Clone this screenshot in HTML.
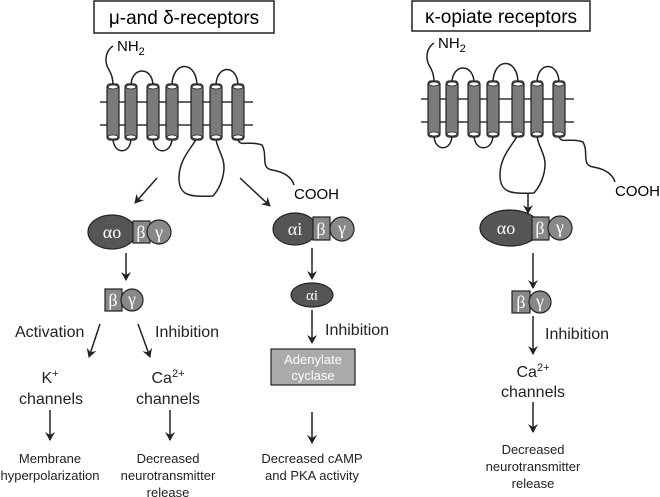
<!DOCTYPE html>
<html><head><style>body{margin:0;background:#fff}svg{display:block}text{font-family:"Liberation Sans",sans-serif}text.g{font-family:"Liberation Serif",serif}</style></head><body>
<svg width="660" height="497" viewBox="0 0 660 497" xmlns="http://www.w3.org/2000/svg">
<defs>
<marker id="ah" markerWidth="10" markerHeight="10" refX="8" refY="5" orient="auto" markerUnits="userSpaceOnUse"><path d="M0,0 L9,5 L0,10 L3,5 Z" fill="#222"/></marker>
<g id="rec">
<line x1="100" y1="102" x2="253" y2="102" stroke="#333" stroke-width="1.5"/>
<line x1="100" y1="125" x2="253" y2="125" stroke="#333" stroke-width="1.5"/>
<g fill="none" stroke="#222" stroke-width="1.5">
<path d="M113,86 C113,70 106,70 106,60 C106,52 110,48 113,46"/>
<path d="M131,86 C131,66 153,66 153,86"/>
<path d="M172,86 C172,60 197,60 197,86"/>
<path d="M216,86 C216,64 238,64 238,86"/>
<path d="M113,138 C113,155 131,155 131,138"/>
<path d="M153,138 C153,155 172,155 172,138"/>
<path d="M197,138 C190,150 179,160 179,178 C179,196 190,197 213,196 C222,186 226,170 223,160 C220,150 216,145 216,138"/>
<path d="M238,138 C238,148 250,140 262,145 C268,155 260,168 272,170 C285,172 292,178 294,185"/>
</g>
<g fill="#7a7a7a" stroke="#222" stroke-width="1.2">
<rect x="107" y="84" width="12" height="56" rx="3"/>
<rect x="125" y="84" width="12" height="56" rx="3"/>
<rect x="147" y="84" width="12" height="56" rx="3"/>
<rect x="166" y="84" width="12" height="56" rx="3"/>
<rect x="191" y="84" width="12" height="56" rx="3"/>
<rect x="210" y="84" width="12" height="56" rx="3"/>
<rect x="232" y="84" width="12" height="56" rx="3"/>
</g>
<g fill="#fff" stroke="#222" stroke-width="0.8">
<ellipse cx="113" cy="87" rx="5" ry="2"/><ellipse cx="113" cy="137" rx="5" ry="2"/>
<ellipse cx="131" cy="87" rx="5" ry="2"/><ellipse cx="131" cy="137" rx="5" ry="2"/>
<ellipse cx="153" cy="87" rx="5" ry="2"/><ellipse cx="153" cy="137" rx="5" ry="2"/>
<ellipse cx="172" cy="87" rx="5" ry="2"/><ellipse cx="172" cy="137" rx="5" ry="2"/>
<ellipse cx="197" cy="87" rx="5" ry="2"/><ellipse cx="197" cy="137" rx="5" ry="2"/>
<ellipse cx="216" cy="87" rx="5" ry="2"/><ellipse cx="216" cy="137" rx="5" ry="2"/>
<ellipse cx="238" cy="87" rx="5" ry="2"/><ellipse cx="238" cy="137" rx="5" ry="2"/>
</g>
<text x="117" y="51" font-size="15">NH<tspan font-size="11" dy="4">2</tspan></text>
<text x="294" y="199" font-size="15">COOH</text>
</g>
</defs>

<rect x="94" y="1" width="180" height="32" fill="#fff" stroke="#222" stroke-width="1.5"/>
<text x="184" y="24" font-size="19" text-anchor="middle">μ-and δ-receptors</text>
<rect x="412" y="1" width="178" height="30" fill="#fff" stroke="#222" stroke-width="1.5"/>
<text x="501" y="23" font-size="19" text-anchor="middle">κ-opiate receptors</text>

<use href="#rec"/>
<use href="#rec" transform="translate(321,-3)"/>

<g stroke="#222" stroke-width="1.5" marker-end="url(#ah)">
<line x1="157" y1="178" x2="135" y2="203"/>
<line x1="240" y1="178" x2="270" y2="206"/>
<line x1="126" y1="253" x2="126" y2="280"/>
<line x1="100" y1="324" x2="89" y2="357"/>
<line x1="138" y1="324" x2="150" y2="357"/>
<line x1="50" y1="410" x2="50" y2="440"/>
<line x1="170" y1="410" x2="170" y2="440"/>
<line x1="312" y1="248" x2="312" y2="279"/>
<line x1="312" y1="310" x2="312" y2="343"/>
<line x1="312" y1="412" x2="312" y2="443"/>
<line x1="528" y1="194" x2="528" y2="213"/>
<line x1="533" y1="253" x2="533" y2="288"/>
<line x1="533" y1="316" x2="533" y2="354"/>
<line x1="533" y1="402" x2="533" y2="432"/>
</g>

<g stroke="#222" stroke-width="1.2">
<ellipse cx="112" cy="232" rx="24" ry="17" fill="#555"/>
<rect x="133" y="221" width="17" height="22" fill="#888"/>
<circle cx="159" cy="232" r="12" fill="#888"/>
<rect x="105" y="289" width="17" height="22" fill="#888"/>
<circle cx="132" cy="300" r="11" fill="#888"/>
<ellipse cx="295" cy="229" rx="22" ry="16" fill="#555"/>
<rect x="313" y="217" width="17" height="23" fill="#888"/>
<circle cx="342" cy="229" r="12" fill="#888"/>
<ellipse cx="312" cy="295" rx="21" ry="12" fill="#555"/>
<rect x="271" y="349" width="84" height="36" fill="#aaa"/>
<ellipse cx="510" cy="228" rx="30" ry="18" fill="#555"/>
<rect x="532" y="217" width="17" height="23" fill="#888"/>
<circle cx="560" cy="228" r="12" fill="#888"/>
<rect x="512" y="291" width="18" height="22" fill="#888"/>
<circle cx="540" cy="302" r="11" fill="#888"/>
</g>
<g fill="#fff" font-size="18" text-anchor="middle">
<text class="g" x="112" y="238">αo</text><text class="g" x="141" y="238">β</text><text class="g" x="159" y="238">γ</text>
<text class="g" x="113" y="306">β</text><text class="g" x="132" y="305">γ</text>
<text class="g" x="295" y="235">αi</text><text class="g" x="321" y="235">β</text><text class="g" x="342" y="234">γ</text>
<text class="g" x="312" y="300" font-size="15">αi</text>
<text class="g" x="506" y="234">αo</text><text class="g" x="540" y="234">β</text><text class="g" x="560" y="233">γ</text>
<text class="g" x="521" y="308">β</text><text class="g" x="540" y="307">γ</text>
</g>
<g fill="#fff" font-size="13" text-anchor="middle">
<text x="313" y="364">Adenylate</text><text x="313" y="380">cyclase</text>
</g>

<g font-size="16" fill="#222">
<text x="15" y="337">Activation</text>
<text x="155" y="337">Inhibition</text>
<text x="325" y="335">Inhibition</text>
<text x="545" y="339">Inhibition</text>
</g>
<g font-size="16" fill="#222" text-anchor="middle">
<text x="50" y="383">K<tspan font-size="11" dy="-6">+</tspan></text>
<text x="51" y="404">channels</text>
<text x="168" y="383">Ca<tspan font-size="11" dy="-6">2+</tspan></text>
<text x="168" y="404">channels</text>
<text x="533" y="377">Ca<tspan font-size="11" dy="-6">2+</tspan></text>
<text x="533" y="397">channels</text>
</g>
<g font-size="13" fill="#222" text-anchor="middle">
<text x="50" y="463">Membrane</text>
<text x="50" y="480">hyperpolarization</text>
<text x="168" y="463">Decreased</text>
<text x="168" y="480">neurotransmitter</text>
<text x="168" y="497">release</text>
<text x="312" y="463">Decreased cAMP</text>
<text x="312" y="480">and PKA activity</text>
<text x="533" y="454">Decreased</text>
<text x="533" y="471">neurotransmitter</text>
<text x="533" y="488">release</text>
</g>
</svg>
</body></html>
